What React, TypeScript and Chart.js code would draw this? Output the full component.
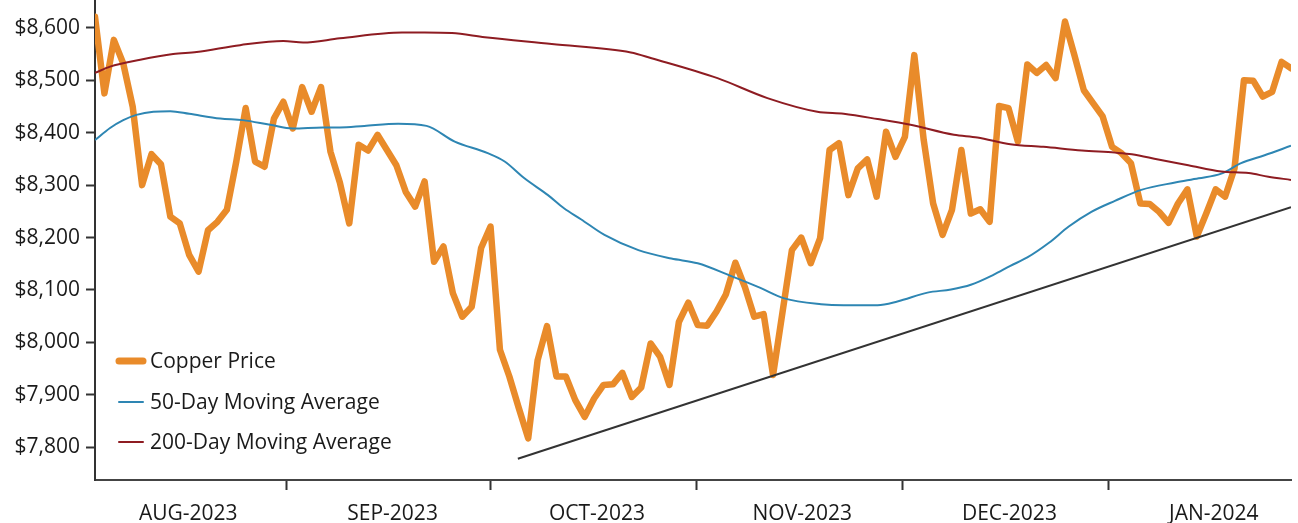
import React, { useEffect, useRef } from "react";
import { Chart, registerables } from "chart.js";

Chart.register(...registerables);

// ---- data ----
const priceValues = [
  8621, 8475, 8577, 8532, 8450, 8300, 8359, 8340, 8240, 8227,
  8167, 8135, 8214, 8230, 8253, 8345, 8447, 8345, 8335, 8427,
  8459, 8408, 8487, 8440, 8487, 8364, 8305, 8227, 8377, 8366,
  8396, 8367, 8338, 8287, 8259, 8307, 8154, 8183, 8094, 8049,
  8068, 8180, 8221, 7986, 7935, 7875, 7817, 7966, 8031, 7935,
  7935, 7890, 7858, 7893, 7919, 7920, 7942, 7896, 7914, 7998,
  7973, 7919, 8039, 8076, 8033, 8032, 8059, 8092, 8152, 8106,
  8049, 8054, 7938, 8057, 8176, 8200, 8151, 8199, 8367, 8380,
  8281, 8332, 8349, 8278, 8402, 8354, 8392, 8548, 8386, 8265,
  8205, 8253, 8367, 8246, 8254, 8230, 8451, 8447, 8383, 8530,
  8514, 8529, 8504, 8612, 8548, 8481, 8456, 8431, 8373, 8361,
  8342, 8265, 8264, 8249, 8228, 8265, 8292, 8202, 8246, 8292,
  8278, 8332, 8500, 8499, 8469, 8478, 8535, 8523,
];

const ma50Index = [
  0, 1.6, 3, 4.4, 6.2, 8, 10, 13.3, 15.7, 18.6, 21, 24.2, 26, 28.6, 32.2, 35.2,
  38.2, 41.7, 43.5, 45.6, 48.1, 49.8, 51.6, 54.1, 57.7, 61.2, 64, 67.5, 70.4,
  73.2, 77.1, 79.5, 83.1, 85.2, 88.4, 90.9, 93, 95.4, 97.2, 99, 101.3, 103.4,
  105.8, 108.3, 111.1, 114.7, 117.2, 119.6, 121.7, 124.2, 127,
];
const ma50Values = [
  8386, 8409, 8424, 8434, 8440, 8441, 8436, 8427, 8424, 8415, 8408, 8410, 8410,
  8413, 8417, 8413, 8383, 8361, 8345, 8313, 8281, 8256, 8235, 8205, 8176, 8160,
  8151, 8127, 8106, 8084, 8073, 8071, 8071, 8078, 8095, 8101, 8110, 8129, 8146,
  8162, 8190, 8221, 8249, 8270, 8291, 8305, 8313, 8322, 8342, 8357, 8375,
];

const ma200Index = [
  0, 1.6, 4.8, 8.3, 10.8, 15.4, 20, 22.1, 26, 32.6, 35, 37.9, 41.4, 48.5, 56.9,
  59.1, 66.1, 71.4, 76.7, 79.5, 83.1, 86.6, 91.2, 93.7, 97.2, 100.7, 104.8,
  108.3, 110.1, 112.9, 116.1, 119.6, 122.5, 124.6, 127,
];
const ma200Values = [
  8514, 8526, 8539, 8550, 8554, 8567, 8575, 8572, 8580, 8591, 8591, 8590, 8582,
  8569, 8553, 8542, 8504, 8466, 8440, 8436, 8426, 8415, 8396, 8391, 8378, 8373,
  8366, 8362, 8359, 8349, 8338, 8326, 8323, 8316, 8310,
];

const trendIndex = [44.9, 127];
const trendValues = [7778, 8258];

const yTickValues = [7800, 7900, 8000, 8100, 8200, 8300, 8400, 8500, 8600];
const monthBoundaryIndex = [20.3, 42.05, 63.9, 85.7, 107.6];
const monthLabelIndex = [9.9, 31.6, 53.3, 75.1, 97.1, 118.8];
const monthLabels = ["AUG-2023", "SEP-2023", "OCT-2023", "NOV-2023", "DEC-2023", "JAN-2024"];

const seriesNames = ["Copper Price", "50-Day Moving Average", "200-Day Moving Average"];
const seriesColors = ["#E98B2A", "#2E86B3", "#8E1C22"];

const FONT_FAMILY = "'Open Sans', sans-serif";
const FONT_SIZE = 21;
const TEXT_COLOR = "#1a1a1a";

const legendPlugin = {
  id: "innerLegend",
  afterDraw(chart: any) {
    const { ctx, chartArea } = chart;
    const rows = [362, 403, 443];
    const widths = [7, 2, 2];
    ctx.save();
    ctx.font = `${FONT_SIZE}px ${FONT_FAMILY}`;
    ctx.textBaseline = "middle";
    ctx.textAlign = "left";
    seriesNames.forEach((name, i) => {
      const y = chartArea.top + rows[i];
      const x0 = chartArea.left + 24;
      ctx.beginPath();
      ctx.strokeStyle = seriesColors[i];
      ctx.lineWidth = widths[i];
      ctx.lineCap = "round";
      ctx.moveTo(x0, y - 1);
      ctx.lineTo(x0 + 24, y - 1);
      ctx.stroke();
      ctx.fillStyle = TEXT_COLOR;
      ctx.fillText(name, chartArea.left + 55, y);
    });
    ctx.restore();
  },
};

export default function App() {
  const canvasRef = useRef<HTMLCanvasElement | null>(null);

  useEffect(() => {
    if (!canvasRef.current) return;
    const font = { family: FONT_FAMILY, size: FONT_SIZE };
    const allXTicks = [...monthBoundaryIndex, ...monthLabelIndex].sort((a, b) => a - b);

    const chart = new Chart(canvasRef.current, {
      type: "line",
      data: {
        datasets: [
          {
            label: seriesNames[2],
            data: ma200Index.map((x, i) => ({ x, y: ma200Values[i] })),
            borderColor: seriesColors[2],
            borderWidth: 2,
            pointRadius: 0,
            cubicInterpolationMode: "monotone",
            fill: false,
          },
          {
            label: seriesNames[1],
            data: ma50Index.map((x, i) => ({ x, y: ma50Values[i] })),
            borderColor: seriesColors[1],
            borderWidth: 2,
            pointRadius: 0,
            cubicInterpolationMode: "monotone",
            fill: false,
          },
          {
            label: "Trend",
            data: trendIndex.map((x, i) => ({ x, y: trendValues[i] })),
            borderColor: "#333333",
            borderWidth: 2,
            pointRadius: 0,
            tension: 0,
            fill: false,
          },
          {
            label: seriesNames[0],
            data: priceValues.map((y, i) => ({ x: i, y })),
            borderColor: seriesColors[0],
            borderWidth: 6.5,
            pointRadius: 0,
            tension: 0,
            borderJoinStyle: "round",
            borderCapStyle: "round",
            fill: false,
          },
        ],
      },
      options: {
        responsive: false,
        animation: false,
        devicePixelRatio: 1,
        layout: { padding: { top: 20, left: 0, right: 7, bottom: 0 } },
        plugins: {
          legend: { display: false },
          tooltip: { enabled: false },
          title: { display: false },
        },
        scales: {
          x: {
            type: "linear",
            min: 0,
            max: 127,
            afterBuildTicks: (scale: any) => {
              scale.ticks = allXTicks.map((v) => ({ value: v }));
            },
            afterFit: (scale: any) => {
              scale.height = 43;
            },
            grid: {
              drawOnChartArea: false,
              drawTicks: true,
              tickLength: 10,
              tickWidth: 2,
              tickColor: (ctx: any) =>
                ctx.tick && monthBoundaryIndex.includes(ctx.tick.value) ? "#333333" : "rgba(0,0,0,0)",
            },
            border: { display: true, color: "#444444", width: 2 },
            ticks: {
              autoSkip: false,
              maxRotation: 0,
              minRotation: 0,
              padding: 11,
              color: TEXT_COLOR,
              font,
              callback: (value: any) => {
                const k = monthLabelIndex.indexOf(Number(value));
                return k >= 0 ? monthLabels[k] : "";
              },
            },
          },
          y: {
            type: "linear",
            min: 7737.6,
            max: 8653.1,
            afterBuildTicks: (scale: any) => {
              scale.ticks = yTickValues.map((v) => ({ value: v }));
            },
            afterFit: (scale: any) => {
              scale.width = 95;
            },
            grid: {
              drawOnChartArea: false,
              drawTicks: true,
              tickLength: 9,
              tickWidth: 2,
              tickColor: "#333333",
            },
            border: { display: true, color: "#333333", width: 2 },
            ticks: {
              padding: 6,
              color: TEXT_COLOR,
              font,
              callback: (value: any) => "$" + Number(value).toLocaleString("en-US"),
            },
          },
        },
      },
      plugins: [legendPlugin],
    } as any);

    return () => chart.destroy();
  }, []);

  return (
    <div
      style={{
        position: "fixed",
        left: 0,
        top: 0,
        width: 1298,
        height: 523,
        overflow: "hidden",
        background: "#ffffff",
      }}
    >
      <canvas
        ref={canvasRef}
        width={1298}
        height={543}
        style={{ position: "absolute", left: 0, top: -20, width: 1298, height: 543 }}
      />
    </div>
  );
}
